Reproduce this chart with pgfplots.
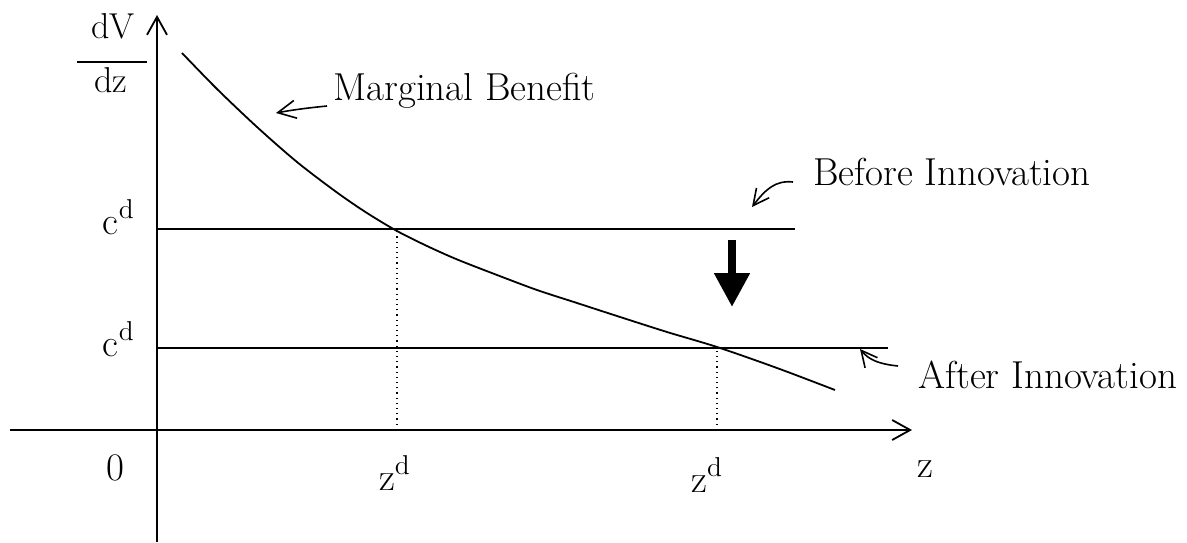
\documentclass[border=0pt]{standalone}
\usepackage{pgfplots}
\pgfplotsset{compat=1.18}
\usetikzlibrary{arrows.meta}
\tikzset{lab/.style={font=\fontsize{19.5}{22}\selectfont, inner sep=0pt}}
\begin{document}
\begin{tikzpicture}
\begin{axis}[
  x=0.5pt, y=0.5pt,
  xmin=-147, xmax=755, ymin=-112, ymax=415,
  axis lines=middle,
  axis line style={line width=0.9pt, -{Straight Barb[length=9pt,width=10pt,line width=0.9pt]}},
  xtick=\empty, ytick=\empty,
  clip=false,
]
% bounding box matching the reference
\path (axis cs:-157,-112) rectangle (axis cs:1030,430);

% Marginal benefit curve
\addplot[line width=0.9pt, smooth] coordinates {
  (25,377) (60,341) (100,303) (140,268) (180,237.5) (210,217) (240,199)
  (270,184) (300,170.6) (340,155) (380,140) (420,127) (460,114)
  (510,98) (560,83) (620,62) (678,40)};

% cost lines
\addplot[line width=0.9pt] coordinates {(0,201) (638,201)};
\addplot[line width=0.9pt] coordinates {(0,82) (731,82)};

% dotted drop lines
\addplot[line width=0.6pt, dotted] coordinates {(240,0) (240,201)};
\addplot[line width=0.6pt, dotted] coordinates {(560,0) (560,82)};

% thick shift arrow
\draw[line width=4pt, -{Triangle[length=17pt,width=17pt]}] (axis cs:575,190) -- (axis cs:575,123);

% annotation arrows
\draw[line width=0.8pt, -{Straight Barb[length=9pt,width=9pt,line width=0.8pt]}]
  (axis cs:170,324) .. controls (axis cs:150,322) and (axis cs:135,320) .. (axis cs:119,317);
\draw[line width=0.8pt, -{Straight Barb[length=8pt,width=8pt,line width=0.8pt]}]
  (axis cs:636,248) .. controls (axis cs:618,250) and (axis cs:608,240) .. (axis cs:595,223);
\draw[line width=0.8pt, -{Straight Barb[length=8pt,width=8pt,line width=0.8pt]}]
  (axis cs:741,64) .. controls (axis cs:722,66) and (axis cs:712,70) .. (axis cs:703,81);

% labels
\node[lab, anchor=base west] at (axis cs:176,330) {Marginal Benefit};
\node[lab, anchor=base west] at (axis cs:656,245) {Before Innovation};
\node[lab, anchor=base west] at (axis cs:761,42) {After Innovation};

\node[lab, anchor=base east] at (axis cs:-22,196) {c\textsuperscript{d}};
\node[lab, anchor=base east] at (axis cs:-22,74) {c\textsuperscript{d}};
\node[lab, anchor=base] at (axis cs:-42,-50) {0};
\node[lab, anchor=base] at (axis cs:238,-60) {z\textsuperscript{d}};
\node[lab, anchor=base] at (axis cs:550,-62) {z\textsuperscript{d}};
\node[lab, anchor=base] at (axis cs:768,-47) {z};

% dV/dz
\node[lab, anchor=base, font=\fontsize{18}{20}\selectfont] at (axis cs:-44,391) {dV};
\draw[line width=0.8pt] (axis cs:-80,368) -- (axis cs:-10,368);
\node[lab, anchor=base, font=\fontsize{18}{20}\selectfont] at (axis cs:-46,338) {dz};
\end{axis}
\end{tikzpicture}
\end{document}
